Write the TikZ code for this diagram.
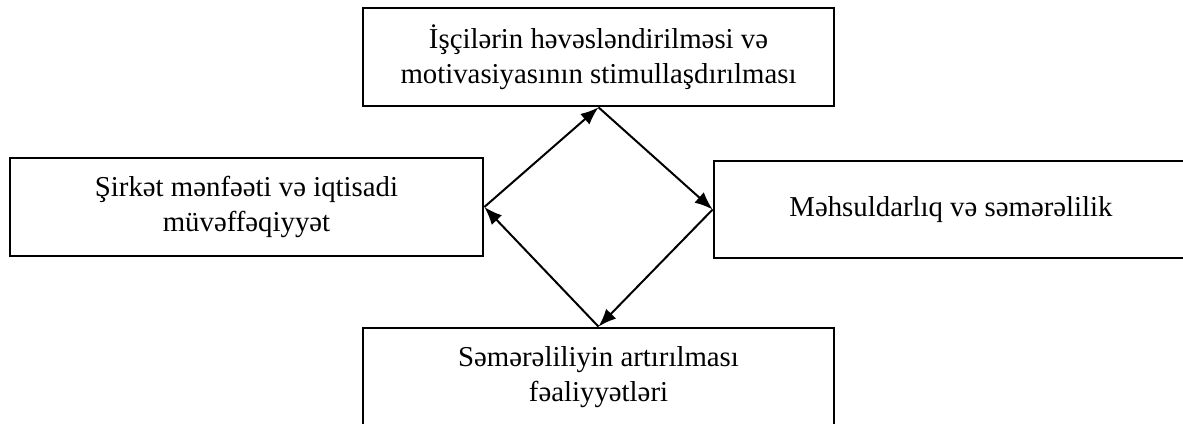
\documentclass[tikz,border=0pt]{standalone}
\usepackage{fontspec}
\setmainfont{Liberation Serif}
\usetikzlibrary{arrows.meta}
\begin{document}
\begin{tikzpicture}[x=0.5pt,y=-0.5pt,
		kasten/.style={draw,line width=1.35pt,minimum width=#1,minimum height=49pt,inner sep=0pt,align=center,font=\fontsize{14.4}{17.5}\selectfont},
		kasten/.default=236pt,
		pfeil/.style={line width=1pt,-{Latex[length=9pt,width=7pt]}}]
		
		\useasboundingbox (0,0) rectangle (1183,423);
		
		%kästen
		\node[kasten=235.5pt] (oben) at (598.5,57) {İşçilərin həvəsləndirilməsi və\\motivasiyasının stimullaşdırılması};
		\node[kasten=236.5pt] (links) at (246.5,207) {Şirkət mənfəəti və iqtisadi\\müvəffəqiyyət};
		\node[kasten=237pt,minimum height=48.5pt] (rechts) at (951,209.5) {Məhsuldarlıq və səmərəlilik};
		\node[kasten=235.5pt] (unten) at (598.5,377) {Səmərəliliyin artırılması\\fəaliyyətləri};
		
		%pfeile im kreis
		\foreach \von/\nach in {links.east/oben.south, oben.south/rechts.west, rechts.west/unten.north, unten.north/links.east}
		\draw[pfeil] (\von) -- (\nach);
		
	\end{tikzpicture}
\end{document}
